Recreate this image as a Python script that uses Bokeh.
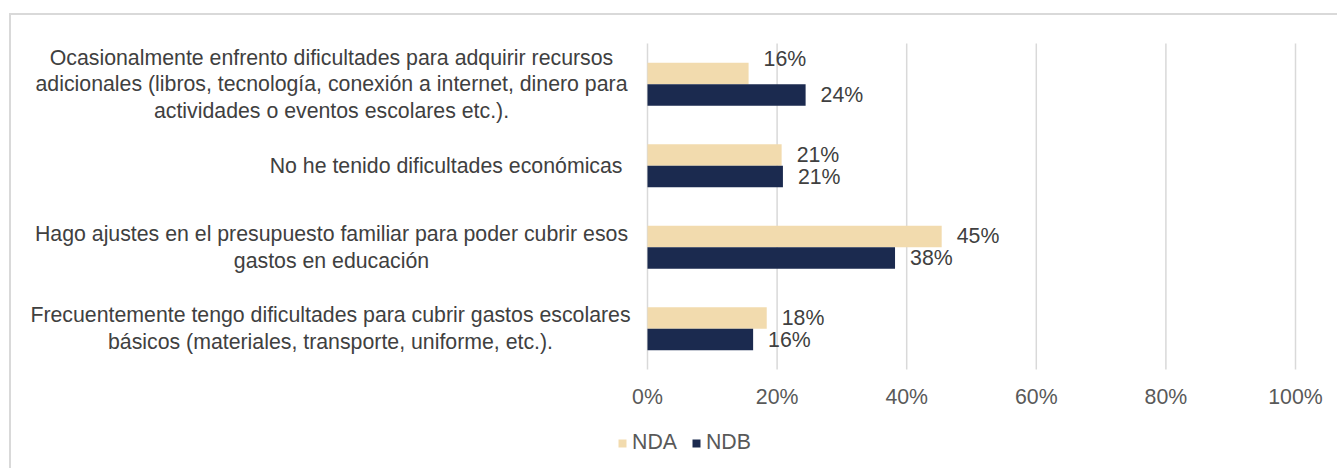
from bokeh.plotting import figure
from bokeh.models import ColumnDataSource, Range1d, Label, Legend, LegendItem
from bokeh.core.properties import value
from bokeh.embed import file_html
from bokeh.resources import INLINE

# ---------------- data ----------------
categories = [
    "Ocasionalmente enfrento dificultades para adquirir recursos\nadicionales (libros, tecnología, conexión a internet, dinero para\nactividades o eventos escolares etc.).",
    "No he tenido dificultades económicas",
    "Hago ajustes en el presupuesto familiar para poder cubrir esos\ngastos en educación",
    "Frecuentemente tengo dificultades para cubrir gastos escolares\nbásicos (materiales, transporte, uniforme, etc.).",
]
series_names = ["NDA", "NDB"]
nda_values = [15.6, 20.7, 45.4, 18.4]
ndb_values = [24.4, 20.9, 38.2, 16.3]
tick_values = [0, 20, 40, 60, 80, 100]
tick_labels = ["0%", "20%", "40%", "60%", "80%", "100%"]

# ---------------- styles / layout ----------------
FONT = "Liberation Sans"
FS = "21.3px"
C_NDA = "#F2DBAE"
C_NDB = "#1B2A4F"
TXT_DARK = "#404040"
TXT = "#595959"
GRID = "#D9D9D9"
BAR_H = 0.265
OFF = 0.1325
W, H = 1328, 455
PLOT_L, PLOT_R = 636, 1284      # canvas px of 0% and 100%
PLOT_T, PLOT_B = 28, 354        # canvas px of top / bottom of category area
# per-label pixel nudges (NDA then NDB, per category)
nda_label_dy = [-14, 0, 0, 0]
ndb_label_dy = [0, 0, 0, 0]
# category label horizontal anchors (canvas px) and alignment
cat_label_x = [320, 611, 320, 319]
cat_label_align = ["center", "right", "center", "center"]

n = len(categories)
xmax = tick_values[-1]
ppx = (PLOT_R - PLOT_L) / xmax
ppy = (PLOT_B - PLOT_T) / n
x_range = Range1d(-PLOT_L / ppx, (W - PLOT_L) / ppx)
y_range = Range1d(-(H - PLOT_B) / ppy, n + PLOT_T / ppy)

centers = [n - 0.5 - i for i in range(n)]

src_a = ColumnDataSource(dict(
    y=[c + OFF for c in centers], v=nda_values,
    lbl=[f"{round(v)}%" for v in nda_values], dy=nda_label_dy))
src_b = ColumnDataSource(dict(
    y=[c - OFF for c in centers], v=ndb_values,
    lbl=[f"{round(v)}%" for v in ndb_values], dy=ndb_label_dy))

p = figure(width=W, height=H, output_backend="svg", toolbar_location=None,
           x_range=x_range, y_range=y_range,
           min_border=0, min_border_left=0, min_border_right=0,
           min_border_top=0, min_border_bottom=0)
p.styles = {"border-top": "2px solid #D9D9D9", "border-left": "2px solid #D9D9D9",
            "margin-top": "13px", "margin-left": "9px"}
p.outline_line_color = None
p.background_fill_color = "white"
p.border_fill_color = "white"
p.xaxis.visible = False
p.yaxis.visible = False
p.xgrid.visible = False
p.ygrid.visible = False

# vertical gridlines at the tick values, spanning the category area
p.segment(x0=tick_values, x1=tick_values, y0=[0] * len(tick_values), y1=[n] * len(tick_values),
          line_color=GRID, line_width=1.5)

ra = p.hbar(y="y", left=0, right="v", height=BAR_H, source=src_a, fill_color=C_NDA, line_color=None)
rb = p.hbar(y="y", left=0, right="v", height=BAR_H, source=src_b, fill_color=C_NDB, line_color=None)

for src in (src_a, src_b):
    p.text(x="v", y="y", text="lbl", source=src, x_offset=15, y_offset="dy",
           text_font=value(FONT), text_font_size=FS, text_color=TXT_DARK,
           text_baseline="middle", text_align="left")

# x tick labels
p.text(x=tick_values, y=[0] * len(tick_values), text=tick_labels, y_offset=27,
       text_font=value(FONT), text_font_size=FS, text_color=TXT,
       text_baseline="middle", text_align="center")

# category labels
for i, cat in enumerate(categories):
    p.add_layout(Label(x=cat_label_x[i], y=centers[i], x_units="screen", y_units="data",
                       text=cat, text_align=cat_label_align[i], text_baseline="middle",
                       text_font=FONT, text_font_size=FS, text_color=TXT_DARK,
                       text_line_height=1.11))

# legend
legend = Legend(items=[LegendItem(label=series_names[0], renderers=[ra]),
                       LegendItem(label=series_names[1], renderers=[rb])],
                orientation="horizontal", location=(606, 15),
                glyph_width=10, glyph_height=10, label_standoff=5, spacing=14,
                padding=0, margin=0, border_line_color=None, background_fill_alpha=0,
                label_text_font=FONT, label_text_font_size=FS, label_text_color=TXT)
p.add_layout(legend, "center")

open("out.html", "w").write(file_html(p, INLINE))
